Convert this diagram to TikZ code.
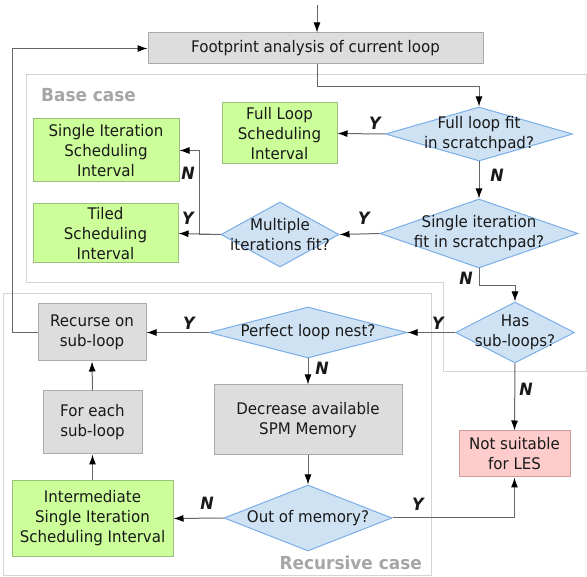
\documentclass[tikz,border=0pt]{standalone}
\usepackage{fontspec}
\setmainfont{DejaVu Sans}[FakeStretch=0.94]
\usetikzlibrary{arrows.meta,shapes.geometric}
\definecolor{boxgreen}{HTML}{CCFF99}
\definecolor{edgegreen}{HTML}{9CBF7A}
\definecolor{boxgrey}{HTML}{DDDDDD}
\definecolor{edgegrey}{HTML}{AAAAAA}
\definecolor{boxblue}{HTML}{CFE2F3}
\definecolor{edgeblue}{HTML}{7AAEE6}
\definecolor{boxpink}{HTML}{FFCCCC}
\definecolor{edgepink}{HTML}{D09A9A}
\definecolor{linegrey}{HTML}{666666}
\definecolor{casegrey}{HTML}{A6A6A6}
\definecolor{regiongrey}{HTML}{D4D4D4}
\tikzset{
  every node/.style={font=\fontsize{16}{20}\selectfont, align=center, inner sep=0pt, text=black!90},
  greenbox/.style={draw=edgegreen, fill=boxgreen, line width=1pt},
  greybox/.style={draw=edgegrey, fill=boxgrey, line width=1pt},
  pinkbox/.style={draw=edgepink, fill=boxpink, line width=1pt},
  decision/.style={shape=diamond, draw=edgeblue, fill=boxblue, line width=1pt},
  yn/.style={font=\fontsize{17}{17}\selectfont\bfseries\itshape},
  casetext/.style={font=\fontsize{18}{18}\selectfont\bfseries, text=casegrey},
  region/.style={draw=regiongrey, line width=1pt}
}
\begin{document}
\begin{tikzpicture}[x=1pt, y=-1pt, >={Latex[length=10pt,width=7pt,color=black]}]
      \useasboundingbox (0,0) rectangle (587,577);
      % regions
      \draw[region] (26,75) -- (586,75) -- (586,372) -- (443,372) -- (443,283) -- (26,283) -- cycle;
      \draw[region] (3,294) rectangle (431,575);
      \draw
        (41,95) node[casetext, anchor=west] (basecase){Base case}
        (422,563) node[casetext, anchor=east] (reccase){Recursive case};
      \coordinate (entry) at (317,5);
      \draw
        (315.5,48.5) node[greybox, minimum width=335pt, minimum height=31pt] (footprint){Footprint analysis of current loop}
        (279.5,133.5) node[greenbox, minimum width=115pt, minimum height=61pt] (fullloop){Full Loop\\Scheduling\\Interval}
        (479,134) node[decision, minimum width=187pt, minimum height=54pt, label={center:{Full loop fit\\in scratchpad?}}] (fullfit){}
        (106,150.5) node[greenbox, minimum width=146pt, minimum height=63pt] (single){Single Iteration\\Scheduling\\Interval}
        (105.5,233.5) node[greenbox, minimum width=145pt, minimum height=59pt] (tiled){Tiled\\Scheduling\\Interval}
        (280,234.5) node[decision, minimum width=118pt, minimum height=65pt, label={center:{Multiple\\iterations fit?}}] (multiple){}
        (479,233.5) node[decision, minimum width=198pt, minimum height=69pt, label={center:{Single iteration\\fit in scratchpad?}}] (singlefit){}
        (515,332.5) node[decision, minimum width=119pt, minimum height=61pt, label={center:{Has\\sub-loops?}}] (hassub){}
        (308,332.5) node[decision, minimum width=198pt, minimum height=51pt, label={center:{Perfect loop nest?}}] (perfect){}
        (92,332.5) node[greybox, minimum width=108pt, minimum height=57pt] (recurse){Recurse on\\sub-loop}
        (92.5,422.5) node[greybox, minimum width=99pt, minimum height=63pt] (foreach){For each\\sub-loop}
        (92.5,518.5) node[greenbox, minimum width=161pt, minimum height=75pt] (intermediate){Intermediate\\Single Iteration\\Scheduling Interval}
        (308,420) node[greybox, minimum width=188pt, minimum height=70pt] (decrease){Decrease available\\SPM Memory}
        (308,518) node[decision, minimum width=168pt, minimum height=66pt, label={center:{Out of memory?}}] (outmem){}
        (514.5,454) node[pinkbox, minimum width=111pt, minimum height=46pt] (notsuit){Not suitable\\for LES};
      \draw
        (375,123) node[yn] (yfull){Y}
        (497,175) node[yn] (nfull){N}
        (364,218) node[yn] (ysingle){Y}
        (188,173) node[yn] (nmult){N}
        (188,218) node[yn] (ymult){Y}
        (466,278) node[yn] (nsingle){N}
        (438,323) node[yn] (yhas){Y}
        (526,389) node[yn] (nhas){N}
        (189,323) node[yn] (yperf){Y}
        (322,368) node[yn] (nperf){N}
        (418,504) node[yn] (ymem){Y}
        (207,503) node[yn] (nmem){N};
      \begin{scope}[->, draw=linegrey, line width=1pt]
        \draw (entry) to (entry |- footprint.north);
        \draw (footprint.south -| entry) -- ++(0,22) -| (fullfit.north);
        \draw (fullfit.west) to (fullloop.east);
        \draw (fullfit.south) to (singlefit.north);
        \draw (singlefit.west) to (multiple.east);
        \draw (multiple.west) to (tiled.east);
        \draw (multiple.west) -- ++(-21,0) |- (single.east);
        \draw (singlefit.south) -- ++(0,17) -| (hassub.north);
        \draw (hassub.west) to (perfect.east);
        \draw (hassub.south) to (notsuit.north);
        \draw (perfect.west) to (recurse.east);
        \draw (perfect.south) to (decrease.north);
        \draw (decrease.south) to (outmem.north);
        \draw (outmem.east) -| (notsuit.south);
        \draw (outmem.west) to (intermediate.east);
        \draw (intermediate.north) to (foreach.south);
        \draw (foreach.north) to (recurse.south);
        \draw (recurse.west) -- ++(-25,0) |- (footprint.west);
      \end{scope}
    \end{tikzpicture}
\end{document}
